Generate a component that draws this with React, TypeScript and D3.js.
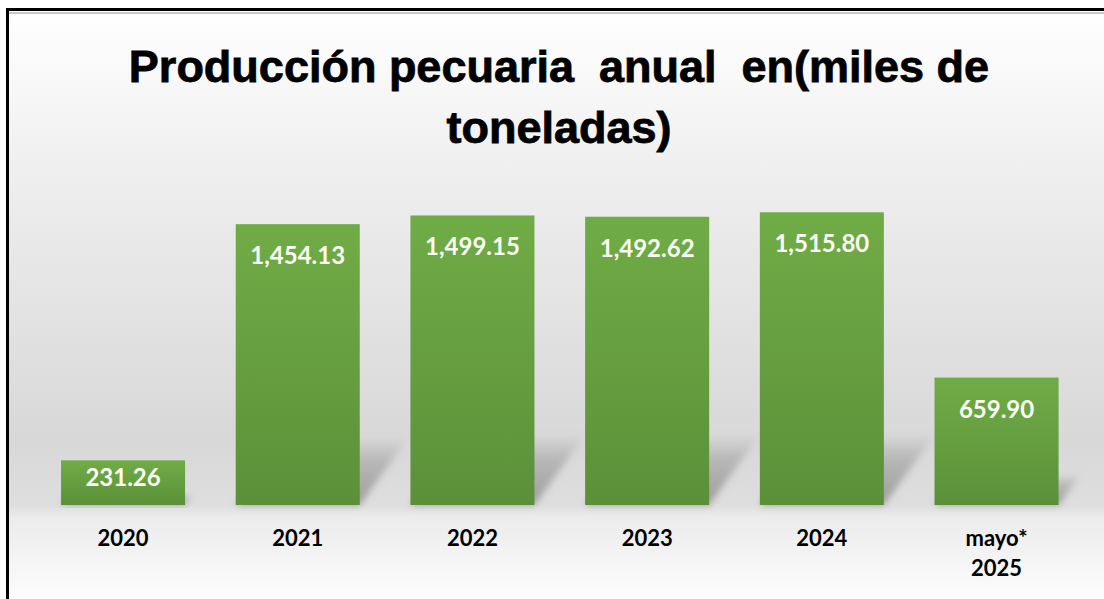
import React from "react";
import * as d3 from "d3";

const categories: string[] = ["2020", "2021", "2022", "2023", "2024", "mayo*\n2025"];
const values: number[] = [231.26, 1454.13, 1499.15, 1492.62, 1515.8, 659.9];
const valueLabels: string[] = ["231.26", "1,454.13", "1,499.15", "1,492.62", "1,515.80", "659.90"];
const titleLines: string[] = ["Producción pecuaria  anual  en(miles de", "toneladas)"];

const W = 1104;
const H = 599;

export default function App() {
  const x = d3
    .scaleBand<string>()
    .domain(categories)
    .range([35.7, 1083.9])
    .paddingInner(0.29)
    .paddingOuter(0.145);
  const y = d3.scaleLinear().domain([0, 1600]).range([505, 196]);
  const base = y(0);

  const labelFont = "Lato, 'Open Sans', 'DejaVu Sans', sans-serif";

  return (
    <svg
      width={W}
      height={H}
      viewBox={`0 0 ${W} ${H}`}
      style={{ position: "absolute", left: 0, top: 0, background: "#ffffff" }}
    >
      <defs>
        <linearGradient id="bg" gradientUnits="userSpaceOnUse" x1="0" y1="11" x2="0" y2={H}>
          <stop offset={0} stopColor="#ffffff" />
          <stop offset={(180 - 11) / (H - 11)} stopColor="#eeeeee" />
          <stop offset={(440 - 11) / (H - 11)} stopColor="#d8d8d8" />
          <stop offset={(505 - 11) / (H - 11)} stopColor="#dedede" />
          <stop offset={(518 - 11) / (H - 11)} stopColor="#ececec" />
          <stop offset={(560 - 11) / (H - 11)} stopColor="#f4f4f4" />
          <stop offset={1} stopColor="#fdfdfd" />
        </linearGradient>
        <linearGradient id="barGrad" x1="0" y1="0" x2="0" y2="1">
          <stop offset={0} stopColor="#70ac46" />
          <stop offset={1} stopColor="#5b9039" />
        </linearGradient>
        <linearGradient id="shadowGrad" x1="0" y1="0" x2="0" y2="1">
          <stop offset={0} stopColor="#9a9a9a" stopOpacity={0} />
          <stop offset={0.35} stopColor="#9a9a9a" stopOpacity={0.55} />
          <stop offset={1} stopColor="#8f8f8f" stopOpacity={0.85} />
        </linearGradient>
        <filter id="blur" x="-20%" y="-20%" width="140%" height="140%">
          <feGaussianBlur stdDeviation={3.5} />
        </filter>
      </defs>

      {/* background & frame */}
      <rect x={7} y={9} width={W + 20} height={H + 20} fill="url(#bg)" />
      <line x1={7} y1={13} x2={W} y2={13} stroke="#c8c8c8" strokeWidth={2} />
      <rect x={7.5} y={9.5} width={W + 20} height={H + 20} fill="none" stroke="#000" strokeWidth={3} />

      {/* title */}
      {titleLines.map((t, i) => (
        <text
          key={i}
          x={559}
          y={82 + i * 61}
          textAnchor="middle"
          fontFamily="'Liberation Sans', Arial, sans-serif"
          fontWeight={700}
          fontSize={45}
          fill="#000"
          stroke="#000"
          strokeWidth={0.8}
          style={{ whiteSpace: "pre" }}
        >
          {t}
        </text>
      ))}

      {/* shadows */}
      {categories.map((c, i) => {
        const x0 = x(c)!;
        const x1 = x0 + x.bandwidth();
        const h = base - y(values[i]);
        const sh = 0.24 * h;
        const sx = 0.72 * sh;
        const p = d3.path();
        p.moveTo(x0, base);
        p.lineTo(x1, base);
        p.lineTo(x1 + sx, base - sh);
        p.lineTo(x0 + sx, base - sh);
        p.closePath();
        return <path key={"s" + i} d={p.toString()} fill="url(#shadowGrad)" filter="url(#blur)" />;
      })}

      {/* bars */}
      {categories.map((c, i) => (
        <rect
          key={"b" + i}
          x={x(c)}
          y={y(values[i])}
          width={x.bandwidth()}
          height={base - y(values[i])}
          fill="url(#barGrad)"
        />
      ))}

      {/* value labels */}
      {categories.map((c, i) => {
        const h = base - y(values[i]);
        const off = Math.min(40, h / 2 + 3);
        return (
          <text
            key={"v" + i}
            x={x(c)! + x.bandwidth() / 2}
            y={y(values[i]) + off}
            textAnchor="middle"
            fontFamily={labelFont}
            fontWeight={700}
            fontSize={24}
            fill="#fbfff5"
          >
            {valueLabels[i]}
          </text>
        );
      })}

      {/* category labels */}
      {categories.map((c, i) => (
        <text
          key={"c" + i}
          x={x(c)! + x.bandwidth() / 2}
          y={546}
          textAnchor="middle"
          fontFamily={labelFont}
          fontWeight={700}
          fontSize={22}
          fill="#000"
        >
          {c.split("\n").map((ln, j) => (
            <tspan key={j} x={x(c)! + x.bandwidth() / 2} dy={j === 0 ? 0 : 30}>
              {ln}
            </tspan>
          ))}
        </text>
      ))}
    </svg>
  );
}
